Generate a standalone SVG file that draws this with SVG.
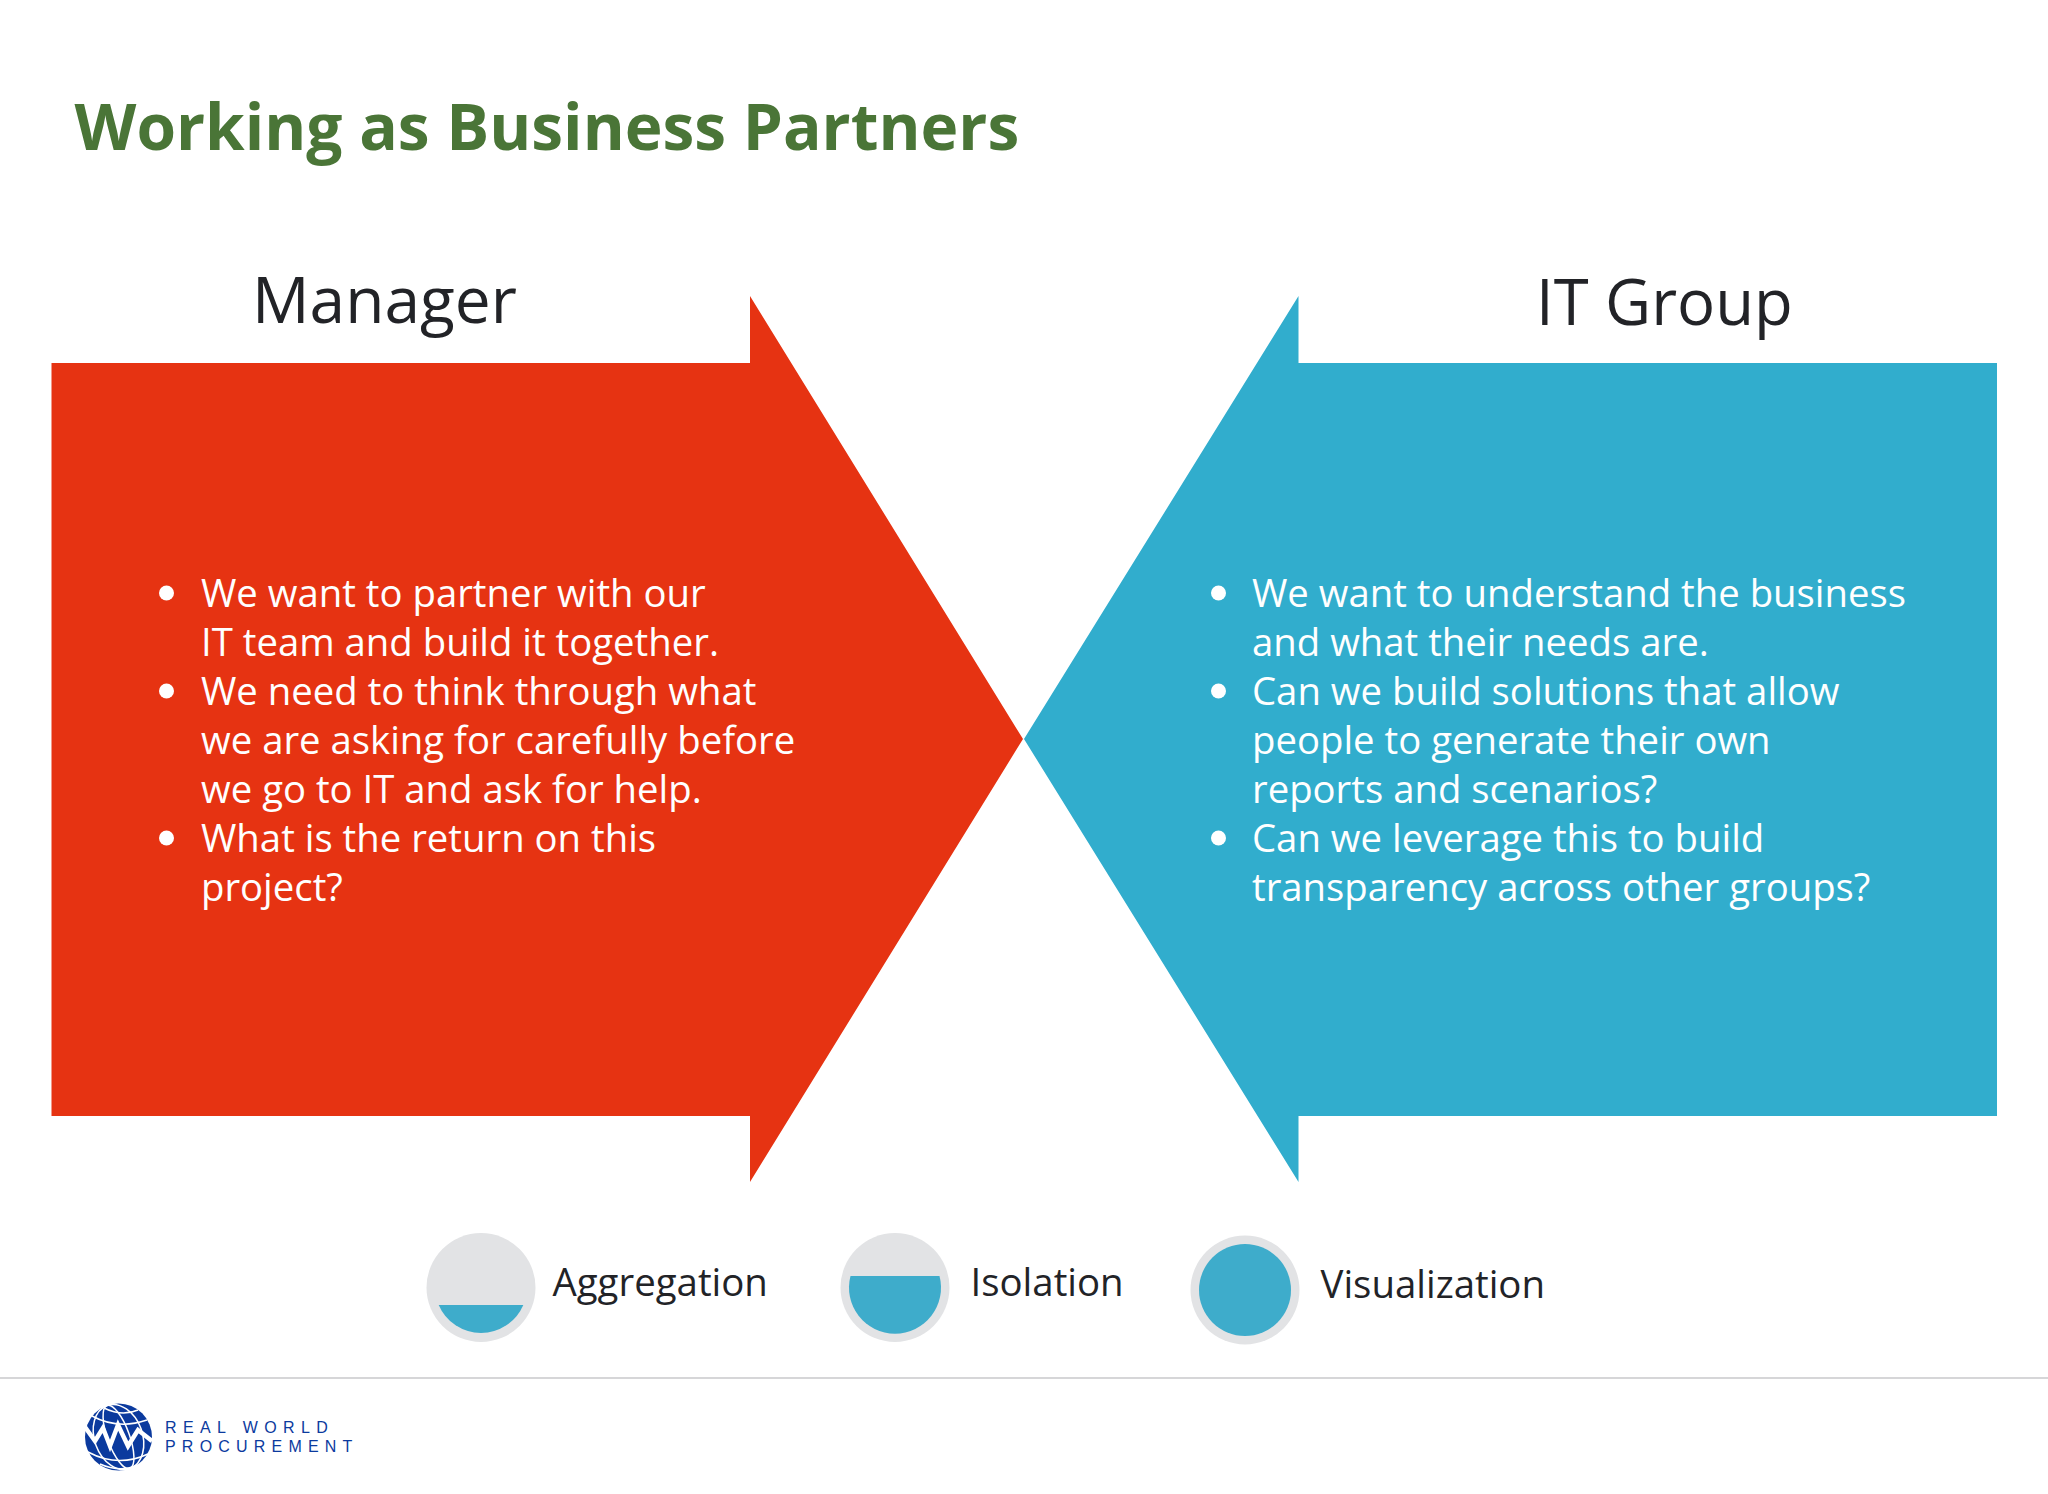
<svg xmlns="http://www.w3.org/2000/svg" width="2048" height="1494" viewBox="0 0 2048 1494">
<style>
text{font-family:"Open Sans","Noto Sans",sans-serif}
.title{font-size:64px;font-weight:700;fill:#4a7537}
.head{font-size:64px;fill:#222327}
.body{font-size:38.3px;fill:#fff}
.bul{fill:#fff}
.leg{font-size:38.4px;fill:#222327}
.ring{fill:#e2e3e5}
.fill{fill:#3eaccb}
.logo{font-family:"Liberation Sans",sans-serif;font-size:16px;fill:#0b3a9e}
</style>
<rect width="2048" height="1494" fill="#fff"/>
<text id="title" class="title" x="74.500" y="150">Working as Business Partners</text>
<g id="manager">
<polygon points="51.500,363 750,363 750,296 1023,739 750,1182 750,1116 51.500,1116" fill="#e63312"/>
<text class="head" x="252" y="323">Manager</text>
<circle class="bul" cx="166.500" cy="593" r="7.500"/><circle class="bul" cx="166.500" cy="691" r="7.500"/><circle class="bul" cx="166.500" cy="838" r="7.500"/>
<text class="body" x="201" y="606.500">We want to partner with our</text>
<text class="body" x="201" y="655.500">IT team and build it together.</text>
<text class="body" x="201" y="704.500">We need to think through what</text>
<text class="body" x="201" y="753.500">we are asking for carefully before</text>
<text class="body" x="201" y="802.500">we go to IT and ask for help.</text>
<text class="body" x="201" y="851.500">What is the return on this</text>
<text class="body" x="201" y="900.500">project?</text>
</g>
<g id="it-group">
<polygon points="1997,363 1298.500,363 1298.500,296 1024,739 1298.500,1182 1298.500,1116 1997,1116" fill="#31adcd"/>
<text class="head" style="font-size:63.400px" x="1536" y="325">IT Group</text>
<circle class="bul" cx="1218.500" cy="593" r="7.500"/><circle class="bul" cx="1218.500" cy="691" r="7.500"/><circle class="bul" cx="1218.500" cy="838" r="7.500"/>
<text class="body" x="1252" y="606.500">We want to understand the business</text>
<text class="body" x="1252" y="655.500">and what their needs are.</text>
<text class="body" x="1252" y="704.500">Can we build solutions that allow</text>
<text class="body" x="1252" y="753.500">people to generate their own</text>
<text class="body" x="1252" y="802.500">reports and scenarios?</text>
<text class="body" x="1252" y="851.500">Can we leverage this to build</text>
<text class="body" x="1252" y="900.500">transparency across other groups?</text>
</g>
<g id="legend-aggregation">
<circle class="ring" cx="481" cy="1287.500" r="54.500"/>
<path class="fill" d="M438.700 1305H523.300A46 46 0 0 1 438.700 1305Z"/>
<text class="leg" x="552.500" y="1296">Aggregation</text>
</g>
<g id="legend-isolation">
<circle class="ring" cx="895" cy="1287.500" r="54.500"/>
<path class="fill" d="M850.500 1276H939.500A46 46 0 1 1 850.500 1276Z"/>
<text class="leg" x="970.500" y="1296">Isolation</text>
</g>
<g id="legend-visualization">
<circle class="ring" cx="1245" cy="1290" r="54.500"/>
<circle class="fill" cx="1245" cy="1290" r="46"/>
<text class="leg" x="1320.500" y="1298">Visualization</text>
</g>
<line id="footer-rule" x1="0" y1="1378" x2="2048" y2="1378" stroke="#d6d6d8" stroke-width="2"/>
<g id="logo">
<circle cx="118.500" cy="1437" r="33.500" fill="#0b3a9e"/>
<g fill="none" stroke="#fff" stroke-width="1.500">
<ellipse cx="118.500" cy="1437" rx="11" ry="33.500" transform="rotate(-20 118.500 1437)"/>
<ellipse cx="118.500" cy="1437" rx="24" ry="33.500" transform="rotate(-20 118.500 1437)"/>
<path d="M92 1416Q118 1430 147 1420M88 1452Q118 1468 148 1454M100 1464Q120 1473 138 1465M104 1408Q122 1417 138 1410"/>
</g>
<path d="M85 1427L95 1441L103 1428L110 1446L118 1425L128 1446L138 1430L152 1441" fill="none" stroke="#fff" stroke-width="4.500"/>
<text class="logo" x="165" y="1433" letter-spacing="6.400">REAL WORLD</text>
<text class="logo" x="165" y="1452" letter-spacing="6.200">PROCUREMENT</text>
</g>
</svg>
